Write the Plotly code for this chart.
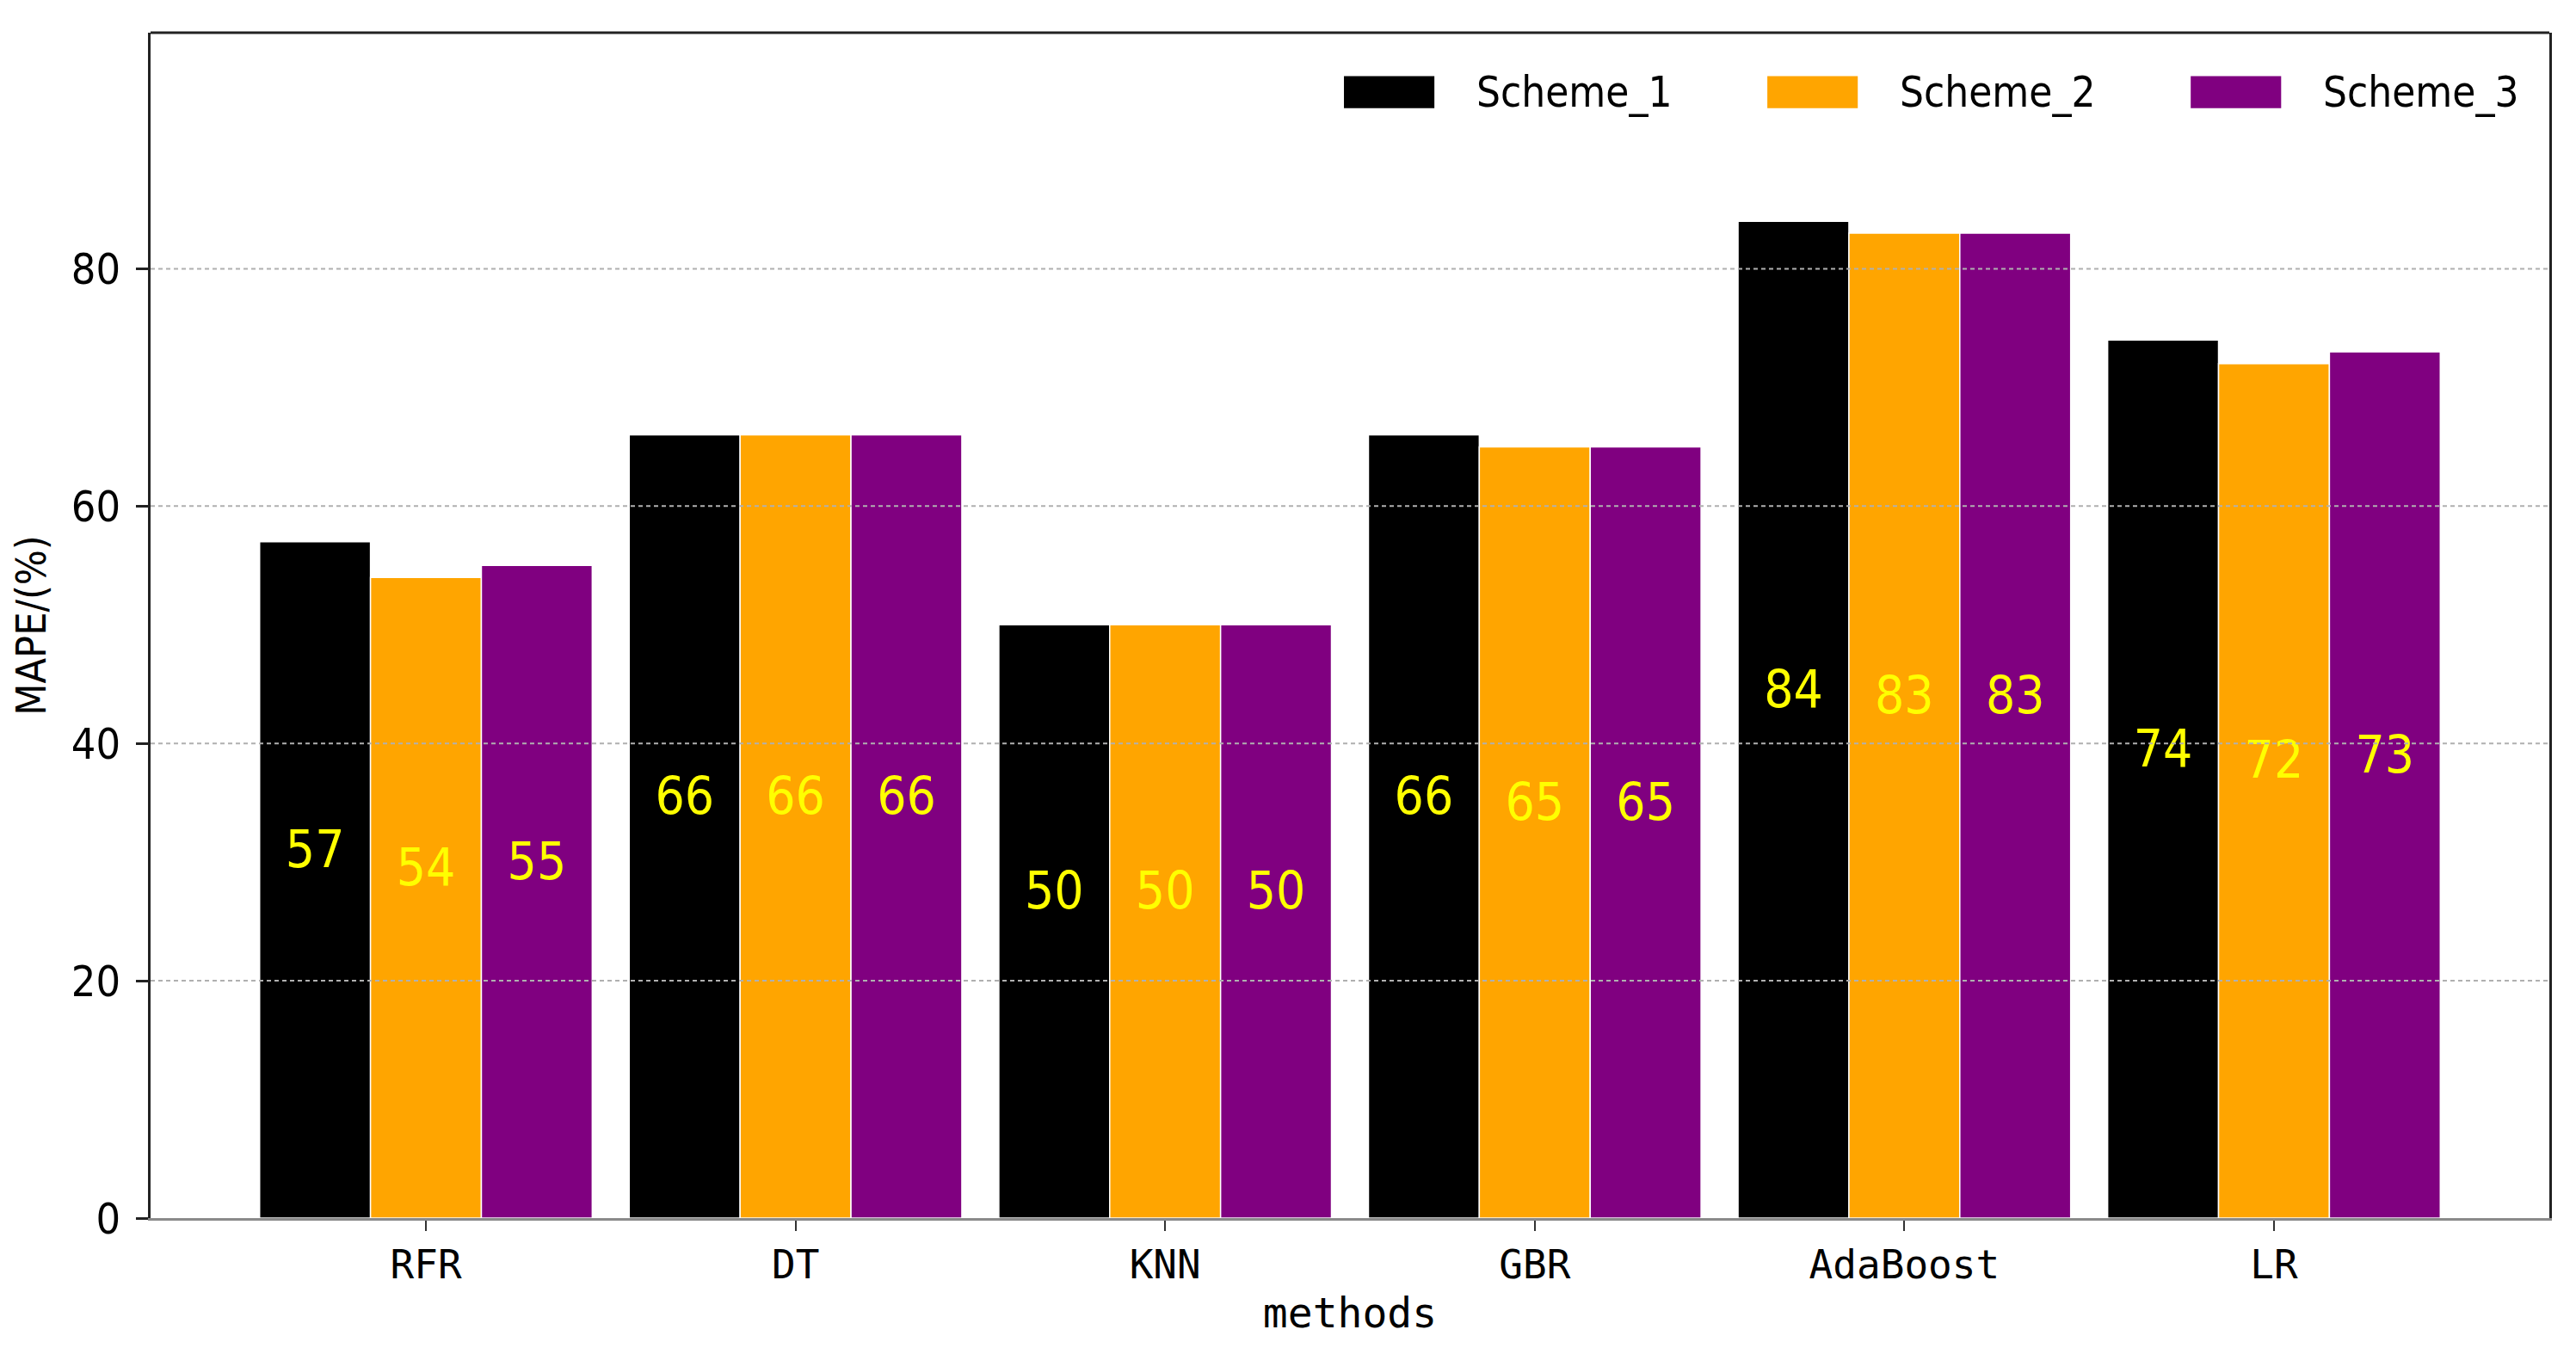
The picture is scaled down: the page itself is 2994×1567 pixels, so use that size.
import plotly.graph_objects as go

methods = ["RFR", "DT", "KNN", "GBR", "AdaBoost", "LR"]
series_names = ["Scheme_1", "Scheme_2", "Scheme_3"]
scheme_1 = [57, 66, 50, 66, 84, 74]
scheme_2 = [54, 66, 50, 65, 83, 72]
scheme_3 = [55, 66, 50, 65, 83, 73]
y_ticks = [0, 20, 40, 60, 80]

series_values = [scheme_1, scheme_2, scheme_3]
colors = ["#000000", "#FFA500", "#800080"]
bar_w = 0.3

NARROW = "DejaVu Sans Condensed, Roboto, sans-serif"
MONO = "DejaVu Sans Mono, monospace"

fig = go.Figure()
for j, (name, vals, col) in enumerate(zip(series_names, series_values, colors)):
    xs = [i + (j - 1) * bar_w for i in range(len(methods))]
    fig.add_trace(go.Bar(
        x=xs, y=vals, width=bar_w, name=name,
        marker=dict(color=col, line=dict(color="white", width=1.5)),
        showlegend=False,
    ))
    fig.add_trace(go.Scatter(
        x=xs, y=[v / 2 for v in vals], mode="text",
        text=[str(v) for v in vals], textposition="top center",
        textfont=dict(family=NARROW, size=60, color="#FFFF00"),
        showlegend=False, hoverinfo="skip",
    ))

shapes = []
for t in y_ticks[1:]:
    shapes.append(dict(type="line", xref="paper", x0=0, x1=1, yref="y", y0=t, y1=t,
                       line=dict(color="#b0b0b0", width=2, dash="5px,4px"), layer="above"))
# top spine
shapes.append(dict(type="line", xref="paper", yref="paper", x0=0, x1=1, y0=1, y1=1,
                   line=dict(color="#222222", width=3), layer="above"))

# legend (manual, matplotlib-style patches)
annotations = []
for j, (name, col) in enumerate(zip(series_names, colors)):
    x0 = 0.4975 + j * 0.1765
    shapes.append(dict(type="rect", xref="paper", yref="paper",
                       x0=x0, x1=x0 + 0.0377, y0=0.9363, y1=0.9633,
                       fillcolor=col, line=dict(width=0), layer="above"))
    annotations.append(dict(xref="paper", yref="paper", x=x0 + 0.0545, y=0.9498,
                            text=name, showarrow=False, xanchor="left", yanchor="middle",
                            font=dict(family=NARROW, size=49, color="black")))

fig.update_layout(
    width=2994, height=1567,
    margin=dict(l=167, r=39, t=30, b=159),
    paper_bgcolor="white", plot_bgcolor="white",
    barmode="overlay",
    shapes=shapes, annotations=annotations,
    xaxis=dict(
        range=[-0.745, 5.745], tickmode="array",
        tickvals=list(range(len(methods))), ticktext=methods,
        showgrid=False, zeroline=False,
        showline=True, linecolor="#8a8a8a", linewidth=3,
        ticks="outside", ticklen=12, tickwidth=2, tickcolor="#333333",
        tickfont=dict(family=MONO, size=46, color="black"),
        title=dict(text="methods", font=dict(family=MONO, size=48, color="black"), standoff=14),
        automargin=False,
    ),
    yaxis=dict(
        range=[0, 99.9], tickmode="array", tickvals=y_ticks,
        showgrid=False, zeroline=False,
        showline=True, mirror=True, linecolor="#222222", linewidth=3,
        ticks="outside", ticklen=14, tickwidth=3, tickcolor="#222222",
        tickfont=dict(family=NARROW, size=50, color="black"),
        ticklabelstandoff=8,
        title=dict(text="MAPE/(%)", font=dict(family=NARROW, size=48, color="black"), standoff=20),
        automargin=False,
    ),
)

fig.write_html("out.html")
